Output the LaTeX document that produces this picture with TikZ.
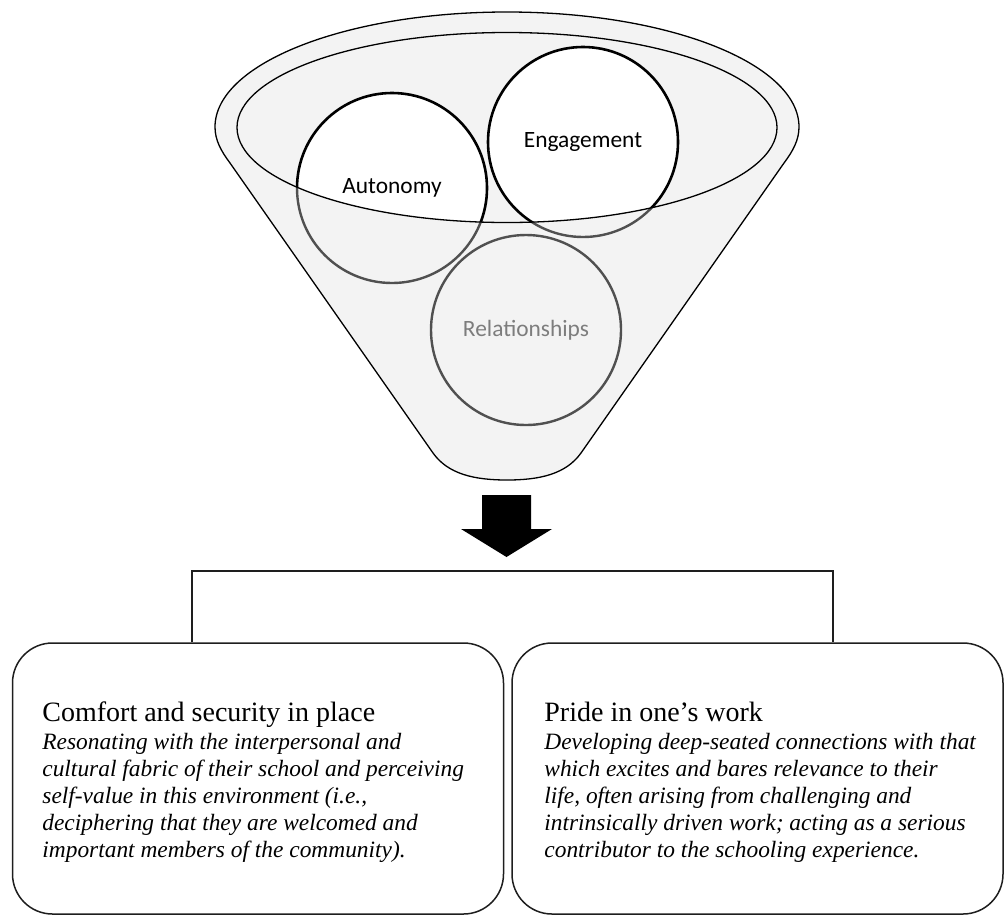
\documentclass[tikz,border=0pt]{standalone}
\usepackage{fontspec}
\setmainfont{Liberation Serif}
\newfontfamily\carlitofont{Carlito}
\definecolor{funnelgray}{RGB}{243,243,243}
\definecolor{ringgray}{RGB}{80,80,80}
\definecolor{labelgray}{RGB}{125,125,125}
\definecolor{lineblack}{RGB}{30,30,30}
\begin{document}
\begin{tikzpicture}[x=0.5pt,y=-0.5pt,
  funnel/.style={fill=funnelgray, draw=black, line width=0.65pt},
  ringnode/.style={circle, minimum size=95pt, inner sep=0pt, font=\carlitofont\fontsize{11.7}{13}\selectfont},
  topstroke/.style={draw=black, line width=1.3pt},
  lowstroke/.style={draw=ringgray, line width=1.2pt},
  rim/.style={draw=black, line width=0.65pt},
  outbox/.style={draw=lineblack, line width=0.75pt, rounded corners=20pt, rectangle, minimum width=245.5pt, minimum height=135.5pt, inner sep=0pt},
  conn/.style={draw=lineblack, line width=0.75pt},
  boxtext/.style={align=left, anchor=base west, inner sep=0pt, font=\fontsize{11.7}{13.5}\selectfont\itshape},
]
\useasboundingbox (0,0) rectangle (1005,916);

% funnel body
\path[funnel] (215,127) arc[start angle=180, end angle=360, x radius=292, y radius=115]
  .. controls (799,140) and (793,151) .. (784,163)
  -- (581,453)
  .. controls (566,474) and (540,480) .. (507,480)
  .. controls (474,480) and (448,474) .. (433,453)
  -- (230,163)
  .. controls (221,151) and (215,140) .. (215,127) -- cycle;

% circles (white interiors)
\node[ringnode, fill=white] (aut) at (392,188) {};
\node[ringnode, fill=white] (eng) at (583,142) {};

% strokes inside the rim
\begin{scope}
  \clip (507,127.5) ellipse[x radius=270, y radius=95];
  \path[topstroke] (aut.center) circle[radius=47.5pt];
  \path[topstroke] (eng.center) circle[radius=47.5pt];
\end{scope}
% parts below the rim
\begin{scope}[even odd rule]
  \clip (0,0) rectangle (1005,916) (507,127.5) ellipse[x radius=270, y radius=95];
  \path[fill=funnelgray, lowstroke] (aut.center) circle[radius=47.5pt];
  \path[fill=funnelgray, lowstroke] (eng.center) circle[radius=47.5pt];
\end{scope}

\node[ringnode, lowstroke, text=labelgray] (rel) at (526,330) {Relationships};

% inner rim
\path[rim] (507,127.5) ellipse[x radius=270, y radius=95];

% labels
\node[ringnode] (autl) at (aut.center) {Autonomy};
\node[ringnode] (engl) at (eng.center) {Engagement};

% arrow
\fill[black] (482,495) -- (531,495) -- (531,529) -- (552,529) -- (506.5,557) -- (461,529) -- (482,529) -- cycle;

% boxes
\node[outbox] (lbox) at (258,778.5) {};
\node[outbox] (rbox) at (757.5,778.5) {};

% connector
\coordinate (jl) at (192,571);
\coordinate (jr) at (833,571);
\path[conn] (lbox.north -| jl) -- (jl) -- (jr) -- (rbox.north -| jr);

% texts
\node[boxtext] (ltext) at (42,857) {{\upshape\fontsize{14}{14}\selectfont Comfort and security in place}\\[0.5pt]
Resonating with the interpersonal and\\
cultural fabric of their school and perceiving\\
self-value in this environment (i.e.,\\
deciphering that they are welcomed and\\
important members of the community).};
\node[boxtext] (rtext) at (544,857) {{\upshape\fontsize{14}{14}\selectfont Pride in one’s work}\\[0.5pt]
Developing deep-seated connections with that\\
which excites and bares relevance to their\\
life, often arising from challenging and\\
intrinsically driven work; acting as a serious\\
contributor to the schooling experience.};
\end{tikzpicture}
\end{document}
